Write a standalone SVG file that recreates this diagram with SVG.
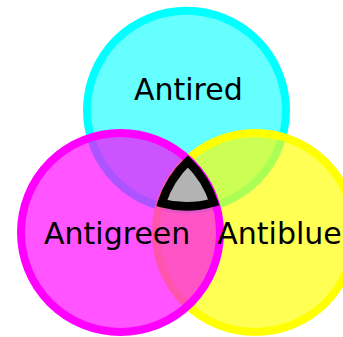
<svg xmlns="http://www.w3.org/2000/svg" width="343" height="337" viewBox="0 0 343 337">
<style>
.ring{stroke-width:8}
.lbl{font-family:"DejaVu Sans",sans-serif;font-size:30px;fill:#000;text-anchor:middle}
</style>
<rect width="343" height="337" fill="#fff"/>
<g id="antired">
<circle class="ring" cx="186.5" cy="110.3" r="99.5" fill="#00ffff" fill-opacity="0.6" stroke="#00ffff"/>
</g>
<g id="antiblue">
<circle class="ring" cx="255.2" cy="232.5" r="99.5" fill="#ffff00" fill-opacity="0.67" stroke="#ffff00"/>
</g>
<g id="antigreen">
<circle class="ring" cx="120.5" cy="232.5" r="99.5" fill="#ff00ff" fill-opacity="0.67" stroke="#ff00ff"/>
</g>
<g id="center">
<path d="M187.85,161.3 A98,98 0 0 1 213.74,202.36 A96,96 0 0 1 161.72,203.05 A98,98 0 0 1 187.85,161.3 Z" fill="#b3b3b3" stroke="#000" stroke-width="8.5" stroke-linejoin="miter"/>
</g>
<g id="labels">
<text class="lbl" x="188.3" y="99.5">Antired</text>
<text class="lbl" x="117.2" y="244.3">Antigreen</text>
<text class="lbl" x="279.5" y="244.3">Antiblue</text>
</g>
<g id="connectors"/>
</svg>
